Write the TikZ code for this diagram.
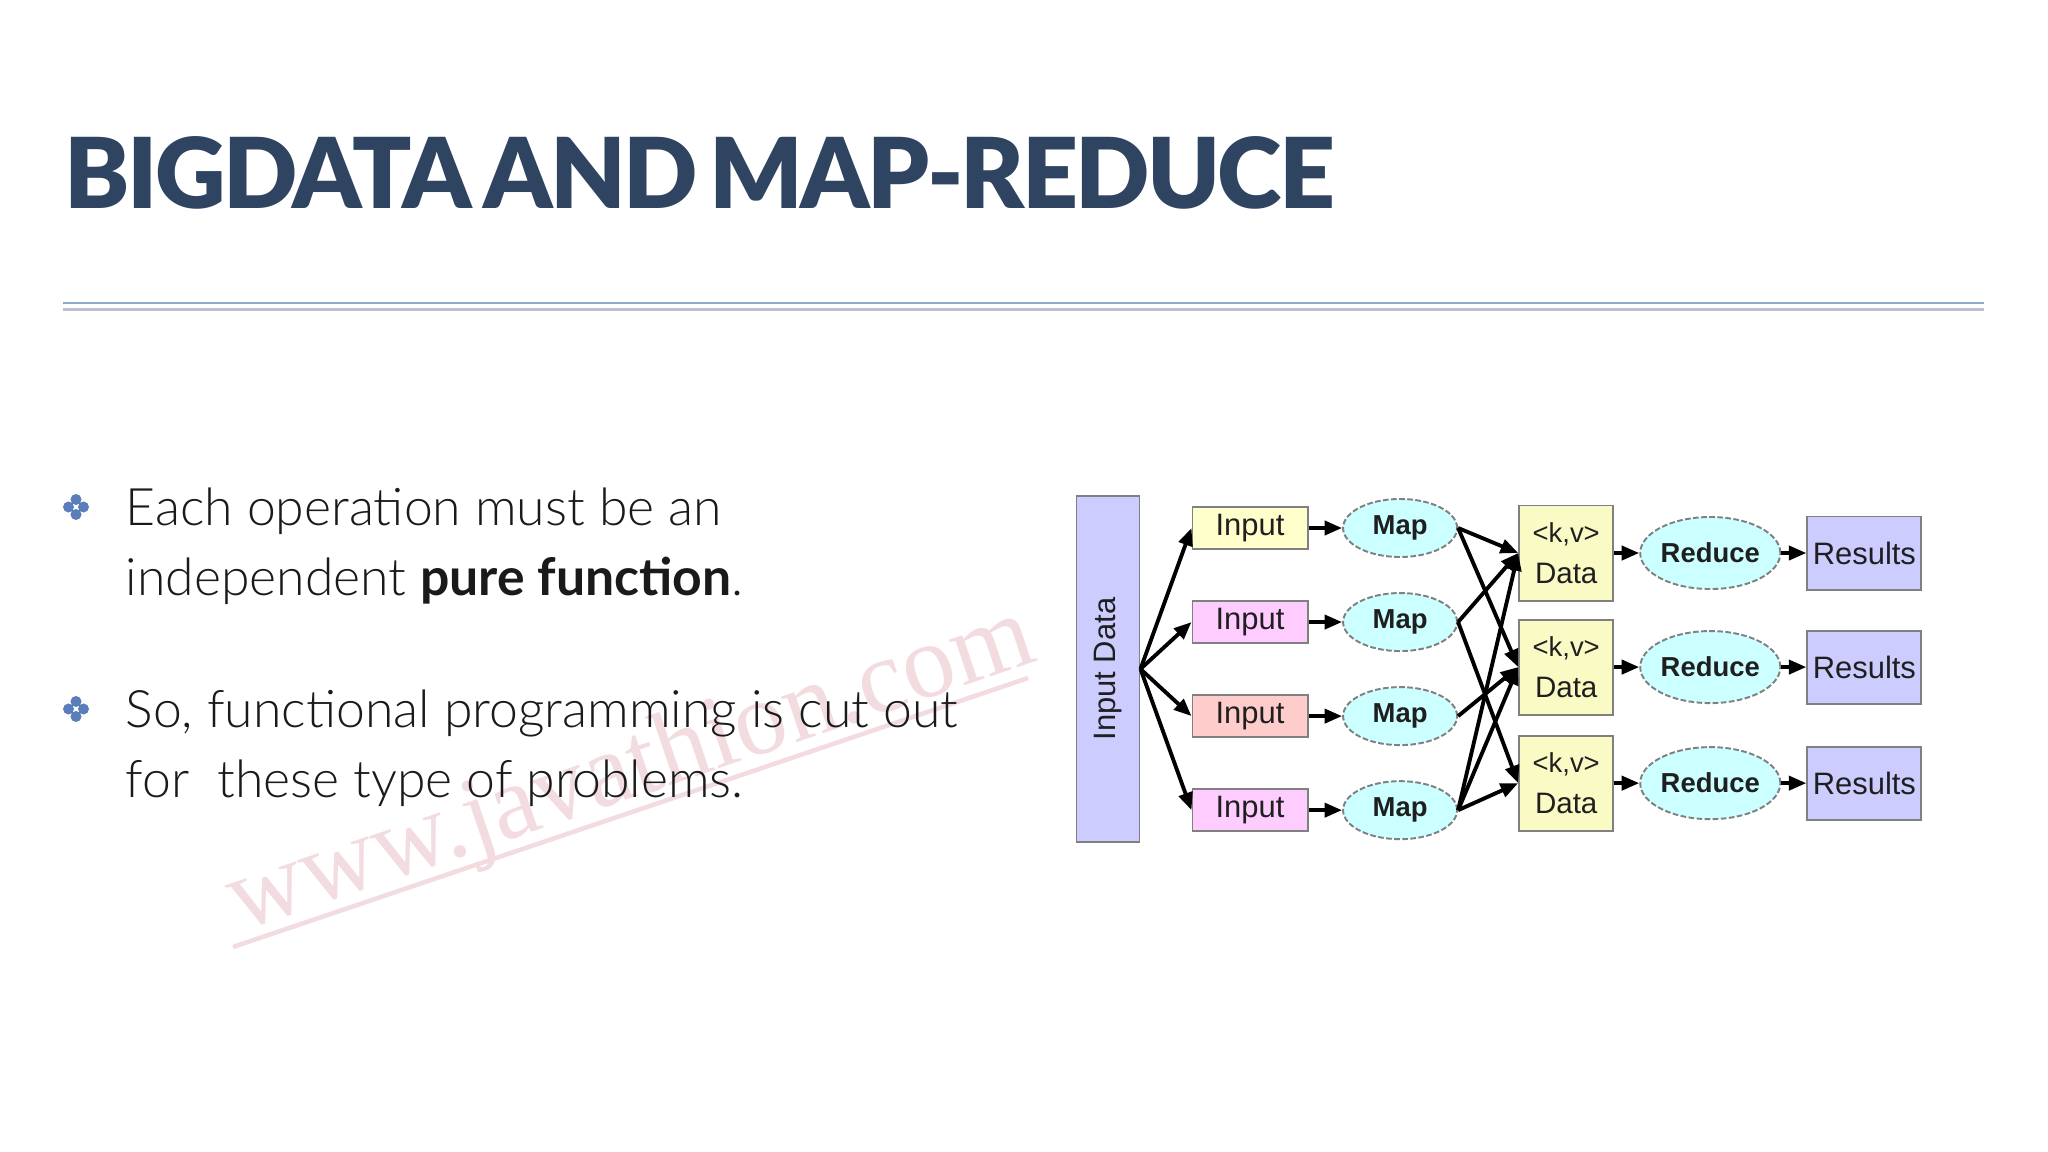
\documentclass[tikz,border=0pt]{standalone}
\usepackage{fontspec}
\setmainfont{Lato Light}[BoldFont={Lato Bold}]
\newfontfamily\titrefont{Lato Black}[LetterSpace=-2.8, WordSpace=0.6]
\newfontfamily\schemafont{Liberation Sans}
\newfontfamily\filigranefont{Liberation Serif}
\usetikzlibrary{shapes.geometric,arrows.meta}
\definecolor{titre}{HTML}{2F4461}
\definecolor{filetclair}{HTML}{8EA8CE}
\definecolor{filetgris}{HTML}{B9C2CE}
\definecolor{puce}{HTML}{5B7EBB}
\definecolor{texte}{HTML}{1A1A1A}
\definecolor{filigrane}{HTML}{F2DCDF}
\definecolor{lavande}{HTML}{CCCCFF}
\definecolor{jaune}{HTML}{FFFFCC}
\definecolor{rose}{HTML}{FFCCFF}
\definecolor{saumon}{HTML}{FFCCCC}
\definecolor{jaunedonnees}{HTML}{FAFAC4}
\definecolor{cyanclair}{HTML}{CCFFFF}
\definecolor{bord}{HTML}{808080}

\begin{document}
\begin{tikzpicture}[x=0.01cm,y=-0.01cm]
        \tikzstyle {corps} = [anchor=base west, inner sep=0pt, text=texte, font=\fontsize{14.7}{19.9}\selectfont]
        \tikzstyle {boite} = [rectangle, draw=bord, line width=0.55pt, inner sep=0pt, text=black!88, font=\schemafont\fontsize{8.8}{10}\selectfont]
        \tikzstyle {entree} = [boite, minimum width=1.15cm, minimum height=0.42cm]
        \tikzstyle {ovale} = [ellipse, draw=bord, dash pattern=on 1.6pt off 0.7pt, line width=0.55pt, fill=cyanclair, inner sep=0pt, minimum width=1.14cm, text=black!88, font=\schemafont\bfseries\fontsize{7.8}{9}\selectfont]
        \tikzstyle {donnees} = [boite, fill=jaunedonnees, minimum width=0.94cm, minimum height=0.95cm, align=center, font=\schemafont\fontsize{8.4}{11.7}\selectfont]
        \tikzstyle {resultat} = [boite, fill=lavande, minimum width=1.14cm, minimum height=0.73cm]
        \tikzstyle {fleche} = [-{Triangle[length=5pt,width=4pt]}, line width=1.1pt, black]
        \useasboundingbox (0,0) rectangle (2048,1152);
        % Filigrane
        \node (filigrane) [rotate=18.7, inner sep=0pt, text=filigrane, font=\filigranefont\fontsize{29.8}{30}\selectfont] at (632,772) {www.javathion.com};
        \draw[filigrane, line width=1.3pt] (233,947) -- (1028,678);
        % Titre
        \node (titre) [anchor=base west, inner sep=0pt, text=titre, font=\titrefont\fontsize{27.8}{30}\selectfont] at (64,209) {BIGDATA AND MAP-REDUCE};
        \draw[filetclair, line width=0.6pt] (63,303) -- (1984,303);
        \draw[filetgris, line width=0.8pt] (63,309.5) -- (1984,309.5);
        % Puces
        \fill[puce] (76,499.5) circle (0.055cm) (83.5,507) circle (0.055cm) (76,514.5) circle (0.055cm) (68.5,507) circle (0.055cm);
        \fill[puce] (76,701.5) circle (0.055cm) (83.5,709) circle (0.055cm) (76,716.5) circle (0.055cm) (68.5,709) circle (0.055cm);
        \node (ligne1) [corps] at (125,526) {Each operation must be an};
        \node (ligne2) [corps] at (125,596) {independent \textbf{pure function}.};
        \node (ligne3) [corps] at (125,727) {So, functional programming is cut out};
        \node (ligne4) [corps] at (125,797) {for~ these type of problems.};
        % Entrées
        \node (input_data) [boite, fill=lavande, rotate=90, minimum width=3.45cm, minimum height=0.63cm] at (1108,669) {Input Data};
        \node (entree1) [entree, fill=jaune] at (1250,528) {Input};
        \node (entree2) [entree, fill=rose, below of=entree1, yshift=0.06cm] {Input};
        \node (entree3) [entree, fill=saumon, below of=entree2, yshift=0.06cm] {Input};
        \node (entree4) [entree, fill=rose, below of=entree3, yshift=0.06cm] {Input};
        \draw[fleche] (input_data.south) -- (entree1.west);
        \draw[fleche] (input_data.south) -- (entree2.west);
        \draw[fleche] (input_data.south) -- (entree3.west);
        \draw[fleche] (input_data.south) -- (entree4.west);
        % Map
        \node (map1) [ovale, minimum height=0.58cm, right of=entree1, xshift=0.5cm] {Map};
        \node (map2) [ovale, minimum height=0.58cm, right of=entree2, xshift=0.5cm] {Map};
        \node (map3) [ovale, minimum height=0.58cm, right of=entree3, xshift=0.5cm] {Map};
        \node (map4) [ovale, minimum height=0.58cm, right of=entree4, xshift=0.5cm] {Map};
        \draw[fleche] (entree1.east) -- (map1.west);
        \draw[fleche] (entree2.east) -- (map2.west);
        \draw[fleche] (entree3.east) -- (map3.west);
        \draw[fleche] (entree4.east) -- (map4.west);
        % Données <k,v>
        \node (donnees1) [donnees, right of=map1, xshift=0.66cm, yshift=-0.25cm] {{\fontsize{7.8}{11.7}\selectfont <k,v>}\\Data};
        \node (donnees2) [donnees, below of=donnees1, yshift=-0.14cm] {{\fontsize{7.8}{11.7}\selectfont <k,v>}\\Data};
        \node (donnees3) [donnees, below of=donnees2, yshift=-0.16cm] {{\fontsize{7.8}{11.7}\selectfont <k,v>}\\Data};
        \draw[fleche] (map1.east) -- (donnees1.west);
        \draw[fleche] (map1.east) -- (donnees2.west);
        \draw[fleche] (map2.east) -- (donnees1.west);
        \draw[fleche] (map2.east) -- (donnees3.west);
        \draw[fleche] (map3.east) -- (donnees2.west);
        \draw[fleche] (map4.east) -- (donnees1.west);
        \draw[fleche] (map4.east) -- (donnees2.west);
        \draw[fleche] (map4.east) -- (donnees3.west);
        % Reduce
        \node (reduce1) [ovale, minimum height=0.72cm, right of=donnees1, xshift=0.44cm] {Reduce};
        \node (reduce2) [ovale, minimum height=0.72cm, right of=donnees2, xshift=0.44cm] {Reduce};
        \node (reduce3) [ovale, minimum height=0.72cm, right of=donnees3, xshift=0.44cm] {Reduce};
        \draw[fleche] (donnees1.east) -- (reduce1.west);
        \draw[fleche] (donnees2.east) -- (reduce2.west);
        \draw[fleche] (donnees3.east) -- (reduce3.west);
        % Résultats
        \node (resultats1) [resultat, right of=reduce1, xshift=0.54cm] {Results};
        \node (resultats2) [resultat, right of=reduce2, xshift=0.54cm] {Results};
        \node (resultats3) [resultat, right of=reduce3, xshift=0.54cm] {Results};
        \draw[fleche] (reduce1.east) -- (resultats1.west);
        \draw[fleche] (reduce2.east) -- (resultats2.west);
        \draw[fleche] (reduce3.east) -- (resultats3.west);
\end{tikzpicture}
\end{document}
